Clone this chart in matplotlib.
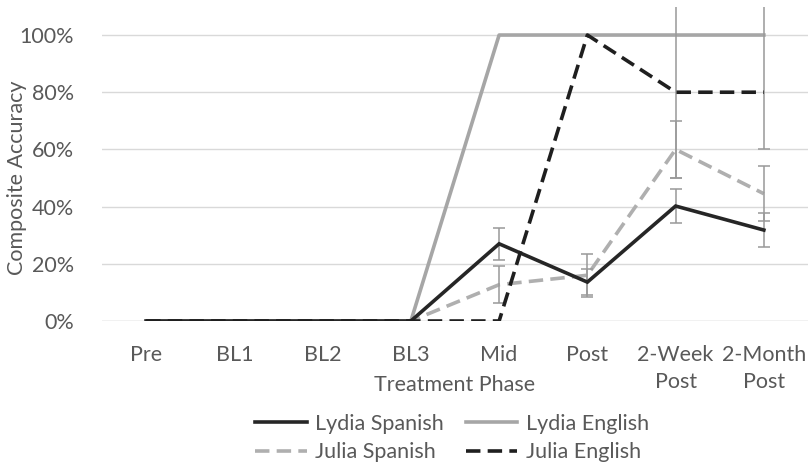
import matplotlib
matplotlib.use("Agg")
import matplotlib.pyplot as plt
import numpy as np

phases = ["Pre", "BL1", "BL2", "BL3", "Mid", "Post", "2-Week\nPost", "2-Month\nPost"]

lydia_spanish = [0, 0, 0, 0, 0.27, 0.136, 0.402, 0.318]
lydia_spanish_err = [0, 0, 0, 0, 0.056, 0.046, 0.061, 0.06]

lydia_english = [0, 0, 0, 0, 1.0, 1.0, 1.0, 1.0]

julia_spanish = [0, 0, 0, 0, 0.127, 0.16, 0.60, 0.445]
julia_spanish_err = [0, 0, 0, 0, 0.065, 0.075, 0.10, 0.097]

julia_english = [0, 0, 0, 0, 0, 1.0, 0.80, 0.80]
julia_english_err_lo = [0, 0, 0, 0, 0, 0, 0.30, 0.20]
julia_english_err_hi = [0, 0, 0, 0, 0, 0, 0.30, 0.30]

TXT = "#595959"
FS = 15.5
plt.rcParams['font.family'] = ['Lato', 'DejaVu Sans']

fig = plt.figure(figsize=(8.12, 4.68), dpi=100)
ax = fig.add_axes([102/812, 1-321/468, 706/812, 314/468])

x = np.arange(len(phases))
lw = 2.6
dash = (4, 2)
errc = "#999999"

def eb(y, lo, hi):
    lo = np.array(lo); hi = np.array(hi)
    m = (lo > 0) | (hi > 0)
    ax.errorbar(x[m], np.array(y)[m], yerr=[lo[m], hi[m]], fmt='none',
                ecolor=errc, elinewidth=1.1, capsize=4, capthick=1.1, zorder=4)

l1, = ax.plot(x, lydia_spanish, color="#262626", lw=lw, zorder=5, solid_joinstyle='miter')
l2, = ax.plot(x, lydia_english, color="#A6A6A6", lw=lw, zorder=3)
l3, = ax.plot(x, julia_spanish, color="#AFAFAF", lw=lw, ls=(0, dash), zorder=4)
l4, = ax.plot(x, julia_english, color="#1F1F1F", lw=lw, ls=(0, dash), zorder=6)

eb(lydia_spanish, lydia_spanish_err, lydia_spanish_err)
eb(julia_spanish, julia_spanish_err, julia_spanish_err)
eb(julia_english, julia_english_err_lo, julia_english_err_hi)

ax.set_xlim(-0.5, len(phases) - 0.5)
ax.set_ylim(0, 1.098)
ax.set_yticks(np.arange(0, 1.01, 0.2))
ax.set_yticklabels([f"{int(round(v*100))}%" for v in np.arange(0, 1.01, 0.2)])
ax.set_xticks(x)
ax.set_xticklabels(phases, linespacing=1.45)
ax.tick_params(length=0, labelsize=FS, colors=TXT)
ax.tick_params(axis='x', pad=17)
ax.tick_params(axis='y', pad=20)
ax.grid(axis='y', color="#D9D9D9", lw=1)
ax.set_axisbelow(True)
for s in ax.spines.values():
    s.set_visible(False)
ax.axhline(0, color="#D9D9D9", lw=1, zorder=0)

fig.text(455/812, 1-385/468, "Treatment Phase", ha='center', va='center', fontsize=FS, color=TXT)
fig.text(17/812, 1-178/468, "Composite Accuracy", ha='center', va='center', rotation=90,
         fontsize=FS, color=TXT)

leg = fig.legend([l1, l3, l2, l4],
                 ["Lydia Spanish", "Julia Spanish", "Lydia English", "Julia English"],
                 ncol=2, loc='center', bbox_to_anchor=(452/812, 1-438/468),
                 frameon=False, fontsize=FS, handlelength=2.4, handletextpad=0.4,
                 columnspacing=1.0, labelspacing=0.4, labelcolor=TXT)

fig.savefig("out.png", dpi=100)
